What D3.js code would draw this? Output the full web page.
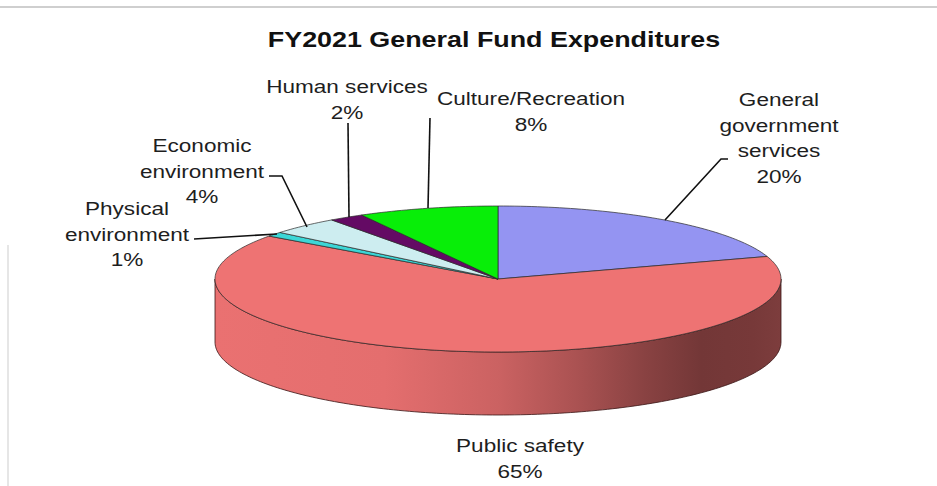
<!DOCTYPE html>
<html>
<head>
<meta charset="utf-8">
<script src="https://cdn.jsdelivr.net/npm/d3@7"></script>
<style>
  html, body { margin: 0; padding: 0; background: #fff; }
  svg { display: block; }
  text { font-family: "Liberation Sans", Arial, sans-serif; fill: #1e1e1e; }
</style>
</head>
<body>
<svg id="chart" width="937" height="486"></svg>
<script>
// FY2021 General Fund expenditures, share of total (%)
const categories = [
  "General government services",
  "Public safety",
  "Physical environment",
  "Economic environment",
  "Human services",
  "Culture/Recreation"
];
const values = [20, 65, 1, 4, 2, 8];
const labelLines = [
  ["General", "government", "services"],
  ["Public safety"],
  ["Physical", "environment"],
  ["Economic", "environment"],
  ["Human services"],
  ["Culture/Recreation"]
];
const title = "FY2021 General Fund Expenditures";

// Styling and layout
const colors = ["#9494f2", "#ee7373", "#3cd6d6", "#cdedf0", "#640a64", "#08ee08"];
const W = 937, H = 486;
const cx = 498, cy = 279, rx = 283, ry = 73, depth = 63;
const stretch = 1.22;     // horizontal text stretch
const lineH = 25.5;

// label anchor (centre x, first baseline y) and leader polyline per slice
const labelPos = [
  { x: 779, y: 106, leader: [[728, 159], [721, 159], [665, 220]] },
  { x: 520, y: 452, leader: null },
  { x: 127, y: 215, leader: [[194, 239], [277, 234]] },
  { x: 202, y: 152, leader: [[269, 176], [282, 176], [307, 227]] },
  { x: 347, y: 93,  leader: [[348, 123], [349, 217]] },
  { x: 531, y: 105, leader: [[430, 118], [428, 208]] }
];

const svg = d3.select("#chart");

// frame lines of the surrounding page
svg.append("line").attr("x1", 0).attr("x2", W).attr("y1", 7).attr("y2", 7)
  .attr("stroke", "#cfcfcf").attr("stroke-width", 2);
svg.append("line").attr("x1", 8).attr("x2", 8).attr("y1", 245).attr("y2", H)
  .attr("stroke", "#dedede").attr("stroke-width", 1.5);

// angles clockwise from 12 o'clock
const pie = d3.pie().sort(null).value(d => d).startAngle(0).endAngle(2 * Math.PI);
const arcs = pie(values);

const px = a => cx + rx * Math.sin(a);
const py = a => cy - ry * Math.cos(a);

function sample(a0, a1, dy) {
  const n = Math.max(2, Math.ceil(Math.abs(a1 - a0) / 0.02));
  const pts = [];
  for (let i = 0; i <= n; i++) {
    const a = a0 + (a1 - a0) * i / n;
    pts.push([px(a), py(a) + dy]);
  }
  return pts;
}

const line = d3.line();

// side-wall shading across the width of the disc
const defs = svg.append("defs");
const shadeStops = [
  [0.00, 0.05], [0.30, 0.12], [0.50, 0.45], [0.64, 0.95],
  [0.76, 1.55], [0.86, 2.05], [0.95, 1.95], [1.00, 1.8]
];
arcs.forEach((d, i) => {
  const g = defs.append("linearGradient")
    .attr("id", "side" + i)
    .attr("gradientUnits", "userSpaceOnUse")
    .attr("x1", cx - rx).attr("x2", cx + rx).attr("y1", 0).attr("y2", 0);
  shadeStops.forEach(([o, k]) => {
    g.append("stop").attr("offset", o).attr("stop-color", d3.color(colors[i]).darker(k));
  });
});

// visible side wall: front half of the ellipse (angles PI/2 .. 3PI/2)
const sideG = svg.append("g");
arcs.forEach((d, i) => {
  const a0 = Math.max(d.startAngle, Math.PI / 2);
  const a1 = Math.min(d.endAngle, 3 * Math.PI / 2);
  if (a1 <= a0) return;
  const top = sample(a0, a1, 0);
  const bot = sample(a1, a0, depth);
  sideG.append("path")
    .attr("d", line(top.concat(bot)) + "Z")
    .attr("fill", `url(#side${i})`)
    .attr("stroke", "#3a1414")
    .attr("stroke-width", 0.8)
    .attr("stroke-linejoin", "round");
});

// top faces
const topG = svg.append("g");
arcs.forEach((d, i) => {
  const pts = [[cx, cy]].concat(sample(d.startAngle, d.endAngle, 0));
  topG.append("path")
    .attr("d", line(pts) + "Z")
    .attr("fill", colors[i])
    .attr("stroke", "#2a2a2a")
    .attr("stroke-width", 0.7)
    .attr("stroke-linejoin", "round");
});

// title
svg.append("text")
  .attr("transform", `translate(494,47) scale(1.25,1)`)
  .attr("text-anchor", "middle")
  .attr("font-size", 21.5)
  .attr("font-weight", "bold")
  .style("fill", "#111")
  .text(title);

// leader lines
arcs.forEach((d, i) => {
  const L = labelPos[i].leader;
  if (!L) return;
  svg.append("path")
    .attr("d", d3.line()(L))
    .attr("fill", "none")
    .attr("stroke", "#111")
    .attr("stroke-width", 1.6);
});

// data labels
arcs.forEach((d, i) => {
  const lines = labelLines[i].concat([values[i] + "%"]);
  const p = labelPos[i];
  const g = svg.append("g");
  lines.forEach((t, j) => {
    g.append("text")
      .attr("transform", `translate(${p.x},${p.y + j * lineH}) scale(${stretch},1)`)
      .attr("text-anchor", "middle")
      .attr("font-size", 18.5)
      .text(t);
  });
});
</script>
</body>
</html>
